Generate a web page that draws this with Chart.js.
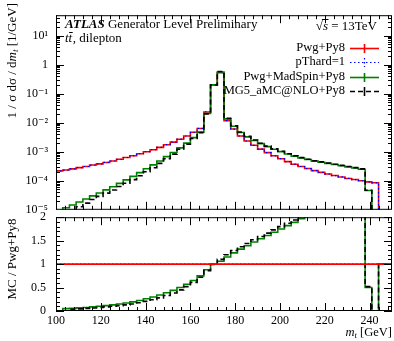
<!DOCTYPE html>
<html>
<head>
<meta charset="utf-8">
<script src="https://cdn.jsdelivr.net/npm/chart.js@4.4.1/dist/chart.umd.min.js"></script>
<style>
html,body{margin:0;padding:0;background:#ffffff;width:394px;height:341px;overflow:hidden;}
canvas{position:absolute;left:0;}
#top{top:0;}
#ratio{top:200px;}
</style>
</head>
<body>
<canvas id="top" width="394" height="225"></canvas>
<canvas id="ratio" width="394" height="141"></canvas>
<script>
// ---------------- data ----------------
const binEdges = [100,103,106,109,112,115,118,121,124,127,130,133,136,139,142,145,148,151,154,157,
                  160,163,166,169,172,175,178,181,184,187,190,193,196,199,202,205,208,211,214,217,
                  220,223,226,229,232,235,238,241,244,247,250];

const seriesNames = ['Pwg+Py8', 'pThard=1', 'Pwg+MadSpin+Py8', 'MG5_aMC@NLO+Py8'];

const pwgPy8 = [2.19e-4,2.34e-4,2.57e-4,2.82e-4,3.09e-4,3.47e-4,3.80e-4,4.27e-4,4.79e-4,5.50e-4,
                6.31e-4,7.24e-4,8.51e-4,1.00e-3,1.17e-3,1.41e-3,1.74e-3,2.14e-3,2.69e-3,3.47e-3,
                4.68e-3,6.31e-3,2.34e-2,0.200,0.525,1.17e-2,6.03e-3,3.47e-3,2.34e-3,1.66e-3,
                1.23e-3,9.33e-4,7.24e-4,5.75e-4,4.57e-4,3.72e-4,3.09e-4,2.63e-4,2.24e-4,1.95e-4,
                1.70e-4,1.51e-4,1.35e-4,1.20e-4,1.10e-4,1.00e-4,9.12e-5,8.51e-5,0,0];

const pThard1 = [2.19e-4,2.34e-4,2.57e-4,2.82e-4,3.09e-4,3.47e-4,3.80e-4,4.27e-4,4.79e-4,5.50e-4,
                 6.31e-4,7.24e-4,8.51e-4,1.00e-3,1.17e-3,1.41e-3,1.74e-3,2.14e-3,2.69e-3,3.47e-3,
                 4.68e-3,6.31e-3,2.34e-2,0.200,0.525,1.17e-2,6.03e-3,3.47e-3,2.34e-3,1.66e-3,
                 1.23e-3,9.33e-4,7.24e-4,5.75e-4,4.57e-4,3.72e-4,3.09e-4,2.63e-4,2.24e-4,1.95e-4,
                 1.70e-4,1.51e-4,1.35e-4,1.20e-4,1.10e-4,1.00e-4,9.12e-5,8.51e-5,0,0];

const pwgMadSpin = [0,1.17e-5,1.46e-5,1.86e-5,2.35e-5,3.02e-5,3.80e-5,4.87e-5,6.23e-5,8.14e-5,
                    1.07e-4,1.41e-4,1.91e-4,2.60e-4,3.51e-4,4.79e-4,6.79e-4,9.42e-4,1.35e-3,1.98e-3,
                    3.04e-3,4.73e-3,2.06e-2,0.200,0.557,1.35e-2,7.48e-3,4.58e-3,3.25e-3,2.44e-3,
                    1.89e-3,1.50e-3,1.22e-3,1.01e-3,8.32e-4,7.03e-4,6.09e-4,5.39e-4,4.75e-4,4.34e-4,
                    3.95e-4,3.61e-4,3.29e-4,3.00e-4,2.74e-4,2.49e-4,4.6e-5,0,0,0];

const mg5aMCNLO = [0,0,9.0e-6,1.27e-5,1.70e-5,2.26e-5,2.89e-5,3.76e-5,4.79e-5,6.33e-5,
                   8.20e-5,1.09e-4,1.49e-4,2.05e-4,2.81e-4,3.95e-4,5.74e-4,8.24e-4,1.21e-3,1.80e-3,
                   2.85e-3,4.54e-3,2.01e-2,0.198,0.578,1.40e-2,7.78e-3,4.75e-3,3.37e-3,2.52e-3,
                   1.96e-3,1.55e-3,1.25e-3,1.04e-3,8.55e-4,7.22e-4,6.24e-4,5.50e-4,4.90e-4,4.47e-4,
                   4.07e-4,3.72e-4,3.39e-4,3.09e-4,2.82e-4,2.57e-4,4.7e-5,0,0,0];

// ratio panel MC / Pwg+Py8
const ratioPwgPy8 = [1,1,1,1,1,1,1,1,1,1, 1,1,1,1,1,1,1,1,1,1, 1,1,1,1,1,1,1,1,1,1,
                     1,1,1,1,1,1,1,1,1,1, 1,1,1,1,1,1,1,1,1,1];
const ratioPThard1 = [1,1,1,1,1,1,1,1,1,1, 1,1,1,1,1,1,1,1,1,1, 1,1,1,1,1,1,1,1,1,1,
                      1,1,1,1,1,1,1,1,1,1, 1,1,1,1,1,1,1,1,1,1];
const ratioMadSpin = [0,0.05,0.057,0.066,0.076,0.087,0.10,0.114,0.13,0.148,
                      0.17,0.195,0.225,0.26,0.30,0.34,0.39,0.44,0.50,0.57,
                      0.65,0.75,0.88,1.00,1.06,1.15,1.24,1.32,1.39,1.47,
                      1.54,1.61,1.68,1.75,1.82,1.89,1.97,2.05,2.12,2.23,
                      2.32,2.39,2.44,2.50,2.49,2.49,0.50,0,1,1];
const ratioMG5 = [0,0,0.035,0.045,0.055,0.065,0.076,0.088,0.10,0.115,
                  0.13,0.15,0.175,0.205,0.24,0.28,0.33,0.385,0.45,0.52,
                  0.61,0.72,0.86,0.99,1.10,1.20,1.29,1.37,1.44,1.52,
                  1.59,1.66,1.73,1.80,1.87,1.94,2.02,2.09,2.19,2.29,
                  2.40,2.46,2.51,2.58,2.56,2.57,0.52,0,1,1];

// tick labels
const xTickValues = [100,120,140,160,180,200,220,240];
const xTickLabels = ['100','120','140','160','180','200','220','240'];
const logTickValues = [1e-5,1e-4,1e-3,1e-2,1e-1,1,10];
const logTickLabels = ['10\u207B\u2075','10\u207B\u2074','10\u207B\u00B3','10\u207B\u00B2','10\u207B\u00B9','1','10\u00B9'];
const ratioTickValues = [0,0.5,1,1.5,2];
const ratioTickLabels = ['0','0.5','1','1.5','2'];

// ---------------- styling ----------------
const FONT = '"Liberation Serif","DejaVu Serif",serif';
const styles = [
  {color:'#ff0000', width:1.6, dash:[]},
  {color:'#0000ff', width:1.2, dash:[1.5,2.5]},
  {color:'#008000', width:1.6, dash:[]},
  {color:'#000000', width:1.6, dash:[5,3]}
];

function histPoints(vals, zeroTo) {
  const pts = vals.map((v, i) => ({x: binEdges[i], y: (zeroTo !== undefined && v <= 0) ? zeroTo : v}));
  pts.push({x: binEdges[vals.length], y: pts[pts.length - 1].y});
  return pts;
}
function ds(vals, idx, order, zeroTo) {
  const s = styles[idx];
  return {
    label: seriesNames[idx], data: histPoints(vals, zeroTo),
    borderColor: s.color, borderWidth: s.width, borderDash: s.dash,
    stepped: true, pointRadius: 0, fill: false, order: order,
    borderCapStyle: 'butt', borderJoinStyle: 'miter'
  };
}

function frameAndTicks(chart, xMajor, xMinor, yMajor, yMinor) {
  const ctx = chart.ctx, ca = chart.chartArea;
  const xs = chart.scales.x, ys = chart.scales.y;
  const L = ca.left, R = ca.right, T = ca.top, B = ca.bottom;
  ctx.save();
  ctx.strokeStyle = '#000';
  ctx.lineWidth = 1;
  ctx.beginPath();
  const vt = (v, len) => { const p = Math.round(xs.getPixelForValue(v)) + 0.5;
    ctx.moveTo(p, B); ctx.lineTo(p, B - len); ctx.moveTo(p, T); ctx.lineTo(p, T + len); };
  const ht = (v, len) => { const p = Math.round(ys.getPixelForValue(v)) + 0.5;
    if (p < T - 0.1 || p > B + 0.6) return;
    ctx.moveTo(L, p); ctx.lineTo(L + len, p); ctx.moveTo(R, p); ctx.lineTo(R - len, p); };
  xMajor.forEach(v => vt(v, 8));
  xMinor.forEach(v => vt(v, 4));
  yMajor.forEach(v => ht(v, 8));
  yMinor.forEach(v => ht(v, 4));
  ctx.stroke();
  ctx.strokeRect(L + 0.5, T + 0.5, R - L - 1, B - T - 1);
  ctx.restore();
}

const xMinorTicks = [];
for (let v = 100; v <= 250; v += 4) if (v % 20 !== 0) xMinorTicks.push(v);
const logMinorTicks = [];
for (let d = -5; d <= 1; d++) for (let m = 2; m <= 9; m++) { const v = m * Math.pow(10, d); if (v < 50) logMinorTicks.push(v); }
const ratioMinorTicks = [];
for (let i = 1; i < 20; i++) if (i % 5 !== 0) ratioMinorTicks.push(i / 10);

function drawRich(ctx, parts, x, y) {
  // parts: [text, font, dy]
  let cx = x;
  parts.forEach(p => { ctx.font = p[1]; ctx.fillText(p[0], cx, y + (p[2] || 0)); cx += ctx.measureText(p[0]).width; });
  return cx - x;
}
function richWidth(ctx, parts) {
  let w = 0; parts.forEach(p => { ctx.font = p[1]; w += ctx.measureText(p[0]).width; }); return w;
}

const topTexts = {
  id: 'topTexts',
  afterDraw(chart) {
    frameAndTicks(chart, xTickValues, xMinorTicks, logTickValues, logMinorTicks);
    const ctx = chart.ctx;
    ctx.save();
    ctx.fillStyle = '#000';
    ctx.textBaseline = 'middle';
    ctx.textAlign = 'left';
    // ATLAS label
    drawRich(ctx, [['ATLAS', 'bold italic 13px ' + FONT], [' Generator Level Preliminary', '13px ' + FONT]], 65, 25);
    // t tbar, dilepton
    ctx.font = 'italic 13px ' + FONT;
    const tw = ctx.measureText('t').width;
    ctx.fillText('t', 65, 39);
    ctx.fillText('t', 65 + tw, 39);
    ctx.fillRect(65 + tw + 0.5, 32, tw, 1);
    ctx.font = '13px ' + FONT;
    ctx.fillText(', dilepton', 65 + 2 * tw + 0.5, 39);
    // sqrt(s) = 13TeV
    const sParts = [['\u221A', '13px ' + FONT], ['s', 'italic 13px ' + FONT], [' = 13TeV', '13px ' + FONT]];
    const sw = richWidth(ctx, sParts);
    const sx = 377 - sw;
    drawRich(ctx, sParts, sx, 27);
    ctx.font = '13px ' + FONT;
    const rw = ctx.measureText('\u221A').width;
    ctx.font = 'italic 13px ' + FONT;
    const ssw = ctx.measureText('s').width;
    ctx.fillRect(sx + rw - 1, 19, ssw + 1.5, 1);
    // legend
    const rows = [48, 62, 77, 91];
    ctx.textAlign = 'right';
    ctx.font = '12.5px ' + FONT;
    for (let i = 0; i < 4; i++) {
      const y = rows[i];
      ctx.fillStyle = '#000';
      ctx.fillText(seriesNames[i], 345, y);
      const s = styles[i];
      ctx.strokeStyle = s.color;
      ctx.lineWidth = s.width;
      ctx.setLineDash(s.dash);
      ctx.beginPath();
      ctx.moveTo(350, y + 0.5); ctx.lineTo(379, y + 0.5);
      ctx.stroke();
      if (i !== 1) ctx.setLineDash([]);
      ctx.beginPath();
      ctx.moveTo(364.5, y - 4); ctx.lineTo(364.5, y + 5);
      ctx.stroke();
      ctx.setLineDash([]);
    }
    // y title (top panel)
    ctx.fillStyle = '#000';
    ctx.textAlign = 'left';
    const yParts = [['1 / \u03C3 d\u03C3 / d', '13px ' + FONT], ['m', 'italic 13px ' + FONT], ['t', 'italic 9px ' + FONT, 3], [' [1/GeV]', '13px ' + FONT]];
    const yw = richWidth(ctx, yParts);
    ctx.translate(13, 3 + yw);
    ctx.rotate(-Math.PI / 2);
    drawRich(ctx, yParts, 0, 0);
    ctx.restore();
  }
};

const ratioTexts = {
  id: 'ratioTexts',
  afterDraw(chart) {
    frameAndTicks(chart, xTickValues, xMinorTicks, ratioTickValues, ratioMinorTicks);
    const ctx = chart.ctx;
    ctx.save();
    ctx.fillStyle = '#000';
    ctx.textBaseline = 'middle';
    ctx.textAlign = 'left';
    const xParts = [['m', 'italic 12.5px ' + FONT], ['t', 'italic 8.5px ' + FONT, 3], [' [GeV]', '12.5px ' + FONT]];
    const xw = richWidth(ctx, xParts);
    drawRich(ctx, xParts, 392 - xw, 133);
    const rParts = [['MC / Pwg+Py8', '13px ' + FONT]];
    const rw = richWidth(ctx, rParts);
    ctx.translate(13, 59 + rw / 2);
    ctx.rotate(-Math.PI / 2);
    drawRich(ctx, rParts, 0, 0);
    ctx.restore();
  }
};

const tickFont = {family: FONT, size: 12};

new Chart(document.getElementById('top'), {
  type: 'line',
  data: {
    datasets: [
      ds(pwgPy8, 0, 3, 1e-9),
      ds(pThard1, 1, 2, 1e-9),
      ds(pwgMadSpin, 2, 1, 1e-9),
      ds(mg5aMCNLO, 3, 0, 1e-9)
    ]
  },
  options: {
    responsive: false, animation: false, devicePixelRatio: 1,
    layout: {padding: {left: 0, right: 2, top: 10, bottom: 15}},
    plugins: {legend: {display: false}, tooltip: {enabled: false}},
    scales: {
      x: {type: 'linear', min: 100, max: 250, display: false},
      y: {
        type: 'logarithmic', min: 1e-5, max: 50,
        afterFit(s) { s.width = 56; },
        afterBuildTicks(s) { s.ticks = logTickValues.map(v => ({value: v})); },
        ticks: {
          autoSkip: false, padding: 8, color: '#000', font: tickFont,
          callback(v) {
            const i = logTickValues.findIndex(t => Math.abs(Math.log10(t) - Math.log10(v)) < 1e-6);
            return i >= 0 ? logTickLabels[i] : '';
          }
        },
        grid: {display: false, drawTicks: false},
        border: {display: false}
      }
    }
  },
  plugins: [topTexts]
});

new Chart(document.getElementById('ratio'), {
  type: 'line',
  data: {
    datasets: [
      ds(ratioPwgPy8, 0, 0),
      ds(ratioPThard1, 1, 1),
      ds(ratioMadSpin, 2, 3),
      ds(ratioMG5, 3, 2)
    ]
  },
  options: {
    responsive: false, animation: false, devicePixelRatio: 1,
    layout: {padding: {left: 0, right: 2, top: 10, bottom: 0}},
    plugins: {legend: {display: false}, tooltip: {enabled: false}},
    scales: {
      x: {
        type: 'linear', min: 100, max: 250,
        afterFit(s) { s.height = 30; },
        afterBuildTicks(s) { s.ticks = xTickValues.map(v => ({value: v})); },
        ticks: {
          autoSkip: false, maxRotation: 0, padding: 3, color: '#000', font: tickFont,
          callback(v) { const i = xTickValues.indexOf(v); return i >= 0 ? xTickLabels[i] : ''; }
        },
        grid: {display: false, drawTicks: false},
        border: {display: false}
      },
      y: {
        type: 'linear', min: 0, max: 2,
        afterFit(s) { s.width = 56; },
        afterBuildTicks(s) { s.ticks = ratioTickValues.map(v => ({value: v})); },
        ticks: {
          autoSkip: false, padding: 10, color: '#000', font: tickFont,
          callback(v) { const i = ratioTickValues.findIndex(t => Math.abs(t - v) < 1e-9); return i >= 0 ? ratioTickLabels[i] : ''; }
        },
        grid: {display: false, drawTicks: false},
        border: {display: false}
      }
    }
  },
  plugins: [ratioTexts]
});
</script>
</body>
</html>
